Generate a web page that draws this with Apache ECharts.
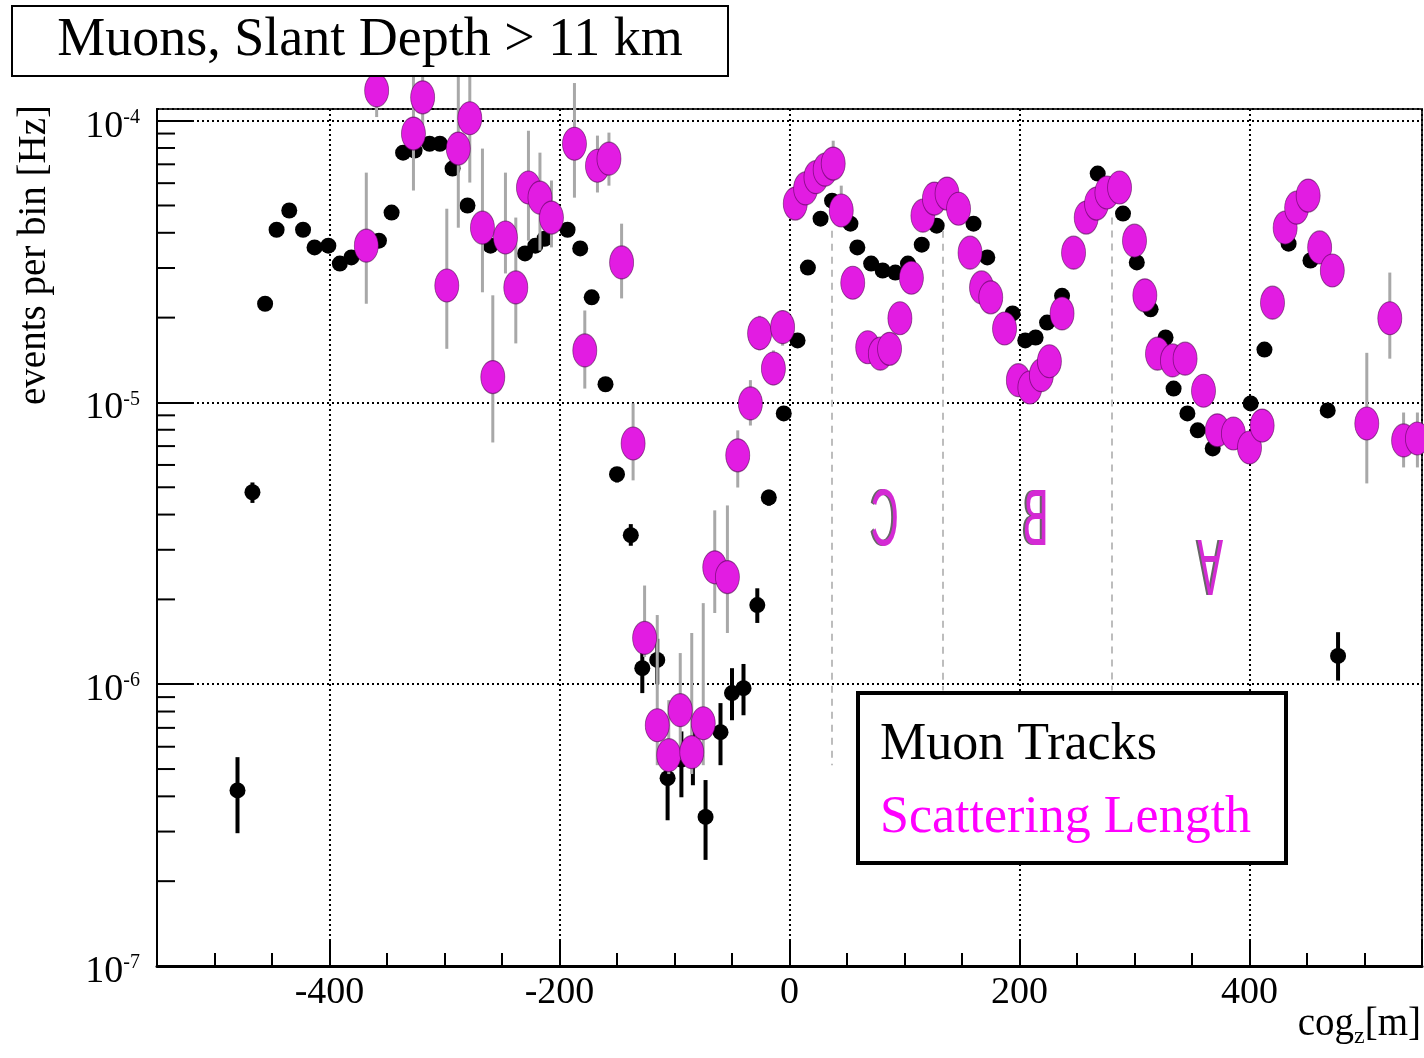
<!DOCTYPE html>
<html>
<head>
<meta charset="utf-8">
<script src="https://cdn.jsdelivr.net/npm/echarts@6/dist/echarts.min.js"></script>
<style>
html,body{margin:0;padding:0;background:#fff;}
#chart{width:1424px;height:1058px;}
</style>
</head>
<body>
<div id="chart"></div>
<script>
// ---------- data ----------
const xTickLabels = ['-400', '-200', '0', '200', '400'];
const yTickExponents = ['-7', '-6', '-5', '-4'];
const yMinorTicks = [2e-7, 3e-7, 4e-7, 5e-7, 6e-7, 7e-7, 8e-7, 9e-7,
                     2e-6, 3e-6, 4e-6, 5e-6, 6e-6, 7e-6, 8e-6, 9e-6,
                     2e-5, 3e-5, 4e-5, 5e-5, 6e-5, 7e-5, 8e-5, 9e-5];

// Muon Tracks: [cog_z, rate]
const muonPoints = [
  [-480, 4.2e-7], [-467, 4.8e-6], [-456, 2.24e-5], [-446, 4.1e-5], [-435, 4.8e-5],
  [-423, 4.1e-5], [-413, 3.55e-5], [-401, 3.6e-5], [-391, 3.11e-5], [-381, 3.27e-5],
  [-370, 3.4e-5], [-357, 3.75e-5], [-346, 4.72e-5], [-336, 7.7e-5], [-326, 7.83e-5],
  [-313, 8.28e-5], [-304, 8.28e-5], [-293, 6.76e-5], [-280, 5.0e-5], [-260, 3.6e-5],
  [-230, 3.38e-5], [-221, 3.6e-5], [-213, 3.81e-5], [-193, 4.1e-5], [-182, 3.52e-5],
  [-172, 2.36e-5], [-160, 1.16e-5], [-150, 5.56e-6], [-138, 3.38e-6], [-128, 1.14e-6],
  [-115, 1.22e-6], [-106, 4.64e-7], [-94, 5.4e-7], [-84, 5.8e-7], [-73, 3.38e-7],
  [-60, 6.76e-7], [-50, 9.3e-7], [-40, 9.68e-7], [-28, 1.91e-6], [-18, 4.6e-6],
  [-5, 9.14e-6], [7, 1.66e-5], [16, 3.01e-5], [27, 4.49e-5], [37, 5.2e-5],
  [53, 4.31e-5], [59, 3.55e-5], [71, 3.11e-5], [81, 2.94e-5], [92, 2.89e-5],
  [103, 3.11e-5], [115, 3.63e-5], [128, 4.24e-5], [160, 4.31e-5], [172, 3.27e-5],
  [194, 2.07e-5], [205, 1.66e-5], [214, 1.70e-5], [224, 1.92e-5], [237, 2.39e-5],
  [268, 6.49e-5], [290, 4.68e-5], [302, 3.14e-5], [314, 2.14e-5], [327, 1.70e-5],
  [334, 1.12e-5], [346, 9.14e-6], [355, 7.96e-6], [368, 6.87e-6], [401, 9.92e-6],
  [413, 1.54e-5], [434, 3.66e-5], [453, 3.19e-5], [468, 9.37e-6], [477, 1.26e-6]
];
// Muon Tracks error bars that show: [cog_z, low, high]
const muonErrors = [
  [-480, 2.96e-7, 5.51e-7], [-467, 4.4e-6, 5.2e-6], [-150, 5.2e-6, 5.9e-6],
  [-138, 3.1e-6, 3.7e-6], [-128, 0.93e-6, 1.37e-6], [-115, 1.0e-6, 1.45e-6],
  [-106, 3.29e-7, 6.0e-7], [-94, 3.97e-7, 6.8e-7], [-84, 4.38e-7, 7.2e-7],
  [-73, 2.38e-7, 4.57e-7], [-60, 5.16e-7, 8.57e-7], [-50, 7.45e-7, 1.14e-6],
  [-40, 7.76e-7, 1.18e-6], [-28, 1.65e-6, 2.19e-6], [-18, 4.3e-6, 4.9e-6],
  [477, 1.03e-6, 1.53e-6]
];

// Scattering Length: [cog_z, rate]
const scatPoints = [
  [-368, 3.6e-5], [-359, 1.28e-4], [-327, 9.0e-5], [-319, 1.21e-4], [-298, 2.6e-5],
  [-288, 7.96e-5], [-278, 1.02e-4], [-267, 4.17e-5], [-258, 1.23e-5], [-247, 3.85e-5],
  [-238, 2.56e-5], [-227, 5.79e-5], [-217, 5.33e-5], [-207, 4.53e-5], [-187, 8.28e-5],
  [-178, 1.53e-5], [-167, 6.92e-5], [-157, 7.33e-5], [-146, 3.14e-5], [-136, 7.15e-6],
  [-126, 1.46e-6], [-115, 7.15e-7], [-105, 5.6e-7], [-95, 8.09e-7], [-85, 5.74e-7],
  [-75, 7.27e-7], [-65, 2.6e-6], [-54, 2.4e-6], [-45, 6.49e-6], [-34, 9.92e-6],
  [-26, 1.76e-5], [-14, 1.32e-5], [-6, 1.85e-5], [5, 5.08e-5], [14, 5.75e-5],
  [23, 6.3e-5], [31, 6.7e-5], [38, 7.04e-5], [45, 4.8e-5], [55, 2.66e-5],
  [68, 1.57e-5], [79, 1.49e-5], [87, 1.55e-5], [96, 1.99e-5], [106, 2.77e-5],
  [116, 4.6e-5], [126, 5.29e-5], [137, 5.51e-5], [147, 4.87e-5], [157, 3.4e-5],
  [167, 2.56e-5], [175, 2.36e-5], [187, 1.83e-5], [199, 1.2e-5], [209, 1.13e-5],
  [219, 1.25e-5], [226, 1.4e-5], [237, 2.07e-5], [247, 3.4e-5], [258, 4.53e-5],
  [267, 5.08e-5], [276, 5.56e-5], [287, 5.79e-5], [300, 3.75e-5], [309, 2.4e-5],
  [320, 1.49e-5], [333, 1.41e-5], [344, 1.43e-5], [360, 1.1e-5], [372, 7.96e-6],
  [386, 7.76e-6], [400, 6.92e-6], [411, 8.28e-6], [420, 2.26e-5], [431, 4.17e-5],
  [441, 4.91e-5], [451, 5.42e-5], [461, 3.55e-5], [472, 2.94e-5], [502, 8.42e-6],
  [522, 1.99e-5], [534, 7.33e-6], [546, 7.45e-6]
];
// Scattering Length error bars that show: [cog_z, low, high]
const scatErrors = [
  [-368, 2.24e-5, 6.54e-5], [-359, 1.03e-4, 1.66e-4], [-327, 5.65e-5, 1.5e-4],
  [-319, 9.6e-5, 1.66e-4], [-298, 1.55e-5, 4.87e-5], [-288, 4.17e-5, 1.7e-4],
  [-278, 6.03e-5, 1.67e-4], [-267, 2.46e-5, 7.96e-5], [-258, 7.21e-6, 2.4e-5],
  [-247, 2.87e-5, 6.54e-5], [-238, 1.62e-5, 4.53e-5], [-227, 3.75e-5, 9.21e-5],
  [-217, 3.46e-5, 7.7e-5], [-207, 3.55e-5, 6.13e-5], [-187, 5.33e-5, 1.36e-4],
  [-178, 1.12e-5, 2.12e-5], [-167, 5.56e-5, 8.85e-5], [-157, 5.88e-5, 9.07e-5],
  [-146, 2.34e-5, 4.31e-5], [-136, 5.29e-6, 9.92e-6], [-126, 1.25e-6, 2.24e-6],
  [-115, 5.16e-7, 1.76e-6], [-105, 4.8e-7, 8.78e-7], [-95, 5.38e-7, 1.29e-6],
  [-85, 4.8e-7, 1.52e-6], [-75, 5.16e-7, 1.94e-6], [-65, 1.79e-6, 4.14e-6],
  [-54, 1.52e-6, 4.31e-6], [-45, 4.99e-6, 7.96e-6], [-34, 8.28e-6, 1.2e-5],
  [-26, 1.53e-5, 2.03e-5], [-14, 1.15e-5, 1.53e-5], [-6, 1.59e-5, 2.12e-5],
  [38, 6.5e-5, 8.49e-5], [45, 4.4e-5, 5.88e-5], [502, 5.16e-6, 1.5e-5],
  [522, 1.43e-5, 2.89e-5], [534, 5.88e-6, 9.21e-6], [546, 5.88e-6, 9.21e-6]
];

// Detector-string annotations
const stringLabels = ['C', 'B', 'A'];
const stringLineX = [37, 133, 280];
const stringLineTop = [4.07e-5, 4.07e-5, 4.53e-5];
const stringLineBottom = [5.16e-7, 9.5e-7, 9.5e-7];
const stringLabelX = [83, 214, 366];
const stringLabelY = [3.75e-6, 3.75e-6, 2.71e-6];

// ---------- chart ----------
const SERIF = '"Liberation Serif", "DejaVu Serif", serif';
const SANS = '"Liberation Sans", "DejaVu Sans", sans-serif';
const chart = echarts.init(document.getElementById('chart'), null, {renderer: 'canvas'});

const measureCtx = document.createElement('canvas').getContext('2d');
function textWidth(text, font) { measureCtx.font = font; return measureCtx.measureText(text).width; }

function errorBarSeries(name, data, color, width, z) {
  return {
    name: name, type: 'custom', z: z, clip: false, silent: true,
    data: data, encode: {x: 0, y: [1, 2]},
    renderItem: function (params, api) {
      const x = api.value(0);
      const p1 = api.coord([x, api.value(1)]);
      const p2 = api.coord([x, api.value(2)]);
      return {type: 'line', shape: {x1: p1[0], y1: p1[1], x2: p2[0], y2: p2[1]},
              style: {stroke: color, lineWidth: width}};
    }
  };
}

const markLineData = stringLineX.map((x, i) => [
  {coord: [x, stringLineTop[i]]}, {coord: [x, stringLineBottom[i]]}
]);

// x-axis title "cog_z [m]" pieces
const titleFont = '39px ' + SERIF;
const subFont = '24px ' + SERIF;
const xTitleRight = 1421;
const wBracket = textWidth('[m]', titleFont);
const wSub = textWidth('z', subFont);

const option = {
  animation: false,
  backgroundColor: '#ffffff',
  grid: {left: 157, right: 2, top: 109, bottom: 92, show: true,
         borderColor: '#333', borderWidth: 2, backgroundColor: '#fff'},
  xAxis: {
    type: 'value', min: -550, max: 550, splitNumber: 5,
    axisLine: {show: true, onZero: false, lineStyle: {color: '#000', width: 3}},
    axisTick: {show: true, inside: true, length: 26, lineStyle: {color: '#000', width: 2}},
    minorTick: {show: true, splitNumber: 4, length: 13, lineStyle: {color: '#000', width: 2}},
    axisLabel: {
      show: true, margin: 8, color: '#000', fontFamily: SERIF, fontSize: 38,
      showMinLabel: false, showMaxLabel: false,
      formatter: function (v) {
        const s = String(Math.round(v));
        return xTickLabels.indexOf(s) >= 0 ? s : '';
      }
    },
    splitLine: {show: true, lineStyle: {color: '#000', width: 2, type: [2, 3]}}
  },
  yAxis: {
    type: 'log', logBase: 10, min: 1e-7, max: 1.1e-4,
    axisLine: {show: true, onZero: false, lineStyle: {color: '#000', width: 2}},
    axisTick: {show: true, inside: true, length: 36, lineStyle: {color: '#000', width: 2}},
    axisLabel: {
      show: true, margin: 17, color: '#000', showMaxLabel: false,
      padding: [12, 0, 0, 0],
      formatter: function (v) {
        const l = Math.log10(v);
        const e = Math.round(l);
        const idx = e + 7;
        if (Math.abs(l - e) > 1e-6 || idx < 0 || idx >= yTickExponents.length) return '';
        return '{b|10}{e|' + yTickExponents[idx] + '}';
      },
      rich: {
        b: {fontFamily: SERIF, fontSize: 38, lineHeight: 38, verticalAlign: 'bottom', color: '#000'},
        e: {fontFamily: SERIF, fontSize: 20, lineHeight: 16, verticalAlign: 'top', color: '#000'}
      }
    },
    splitLine: {show: true, lineStyle: {color: '#000', width: 2, type: [2, 3]}}
  },
  series: [
    {
      name: 'annotations', type: 'scatter', data: [], z: 1, silent: true,
      markLine: {
        silent: true, symbol: 'none', animation: false,
        label: {show: false},
        lineStyle: {color: '#bdbdbd', width: 2, type: [7, 6]},
        data: markLineData
      }
    },
    {
      name: 'y minor ticks', type: 'custom', z: 6, clip: false, silent: true,
      data: yMinorTicks.map(v => [-550, v]), encode: {x: 0, y: 1},
      renderItem: function (params, api) {
        const p = api.coord([api.value(0), api.value(1)]);
        return {type: 'line', shape: {x1: p[0], y1: p[1], x2: p[0] + 18, y2: p[1]},
                style: {stroke: '#000', lineWidth: 2}};
      }
    },
    errorBarSeries('Muon Tracks errors', muonErrors, '#000', 4, 2),
    {
      name: 'Muon Tracks', type: 'scatter', z: 3, clip: false,
      data: muonPoints, symbol: 'circle', symbolSize: 16,
      itemStyle: {color: '#000', opacity: 1}
    },
    errorBarSeries('Scattering Length errors', scatErrors, '#a8a8a8', 3, 4),
    {
      name: 'Scattering Length', type: 'scatter', z: 5, clip: false,
      data: scatPoints, symbol: 'circle', symbolSize: [24, 33],
      itemStyle: {color: '#e21ce2', borderColor: 'rgba(70,0,70,0.55)', borderWidth: 1, opacity: 1}
    }
  ],
  graphic: [
    {type: 'rect', shape: {x: 12, y: 6, width: 716, height: 70},
     style: {fill: '#fff', stroke: '#000', lineWidth: 2}, z: 10},
    {type: 'text', x: 370, y: 41, z: 11,
     style: {text: 'Muons, Slant Depth > 11 km', font: '54px ' + SERIF, fill: '#000',
             textAlign: 'center', textVerticalAlign: 'middle'}},
    {type: 'text', x: 35, y: 105, rotation: Math.PI / 2, z: 11,
     style: {text: 'events per bin [Hz]', font: '39px ' + SERIF, fill: '#000',
             textAlign: 'right', textVerticalAlign: 'middle'}},
    {type: 'text', x: xTitleRight, y: 1025, z: 11,
     style: {text: '[m]', font: titleFont, fill: '#000', textAlign: 'right', textVerticalAlign: 'middle'}},
    {type: 'text', x: xTitleRight - wBracket, y: 1037, z: 11,
     style: {text: 'z', font: subFont, fill: '#000', textAlign: 'right', textVerticalAlign: 'middle'}},
    {type: 'text', x: xTitleRight - wBracket - wSub, y: 1025, z: 11,
     style: {text: 'cog', font: titleFont, fill: '#000', textAlign: 'right', textVerticalAlign: 'middle'}},
    {type: 'rect', shape: {x: 858, y: 693, width: 428, height: 170},
     style: {fill: '#fff', stroke: '#000', lineWidth: 4}, z: 10},
    {type: 'text', x: 880, y: 745, z: 11,
     style: {text: 'Muon Tracks', font: '52px ' + SERIF, fill: '#000',
             textAlign: 'left', textVerticalAlign: 'middle'}},
    {type: 'text', x: 880, y: 818, z: 11,
     style: {text: 'Scattering Length', font: '52px ' + SERIF, fill: '#ff00ff',
             textAlign: 'left', textVerticalAlign: 'middle'}}
  ]
};

chart.setOption(option);

// string letters (mirrored / flipped as in the original) placed through the axes
const letterGraphics = [];
stringLabels.forEach(function (t, i) {
  const p = chart.convertToPixel({gridIndex: 0}, [stringLabelX[i], stringLabelY[i]]);
  const flipped = (t === 'A');
  const sx = flipped ? 0.6 : -0.6;
  const sy = flipped ? -1.25 : 1.25;
  letterGraphics.push({type: 'text', x: p[0] - 2, y: p[1], scaleX: sx, scaleY: sy, z: 7,
    style: {text: t, font: '64px ' + SANS, fill: '#666', textAlign: 'center', textVerticalAlign: 'middle'}});
  letterGraphics.push({type: 'text', x: p[0], y: p[1], scaleX: sx, scaleY: sy, z: 8,
    style: {text: t, font: '64px ' + SANS, fill: '#d42ad4', textAlign: 'center', textVerticalAlign: 'middle'}});
});
chart.setOption({graphic: option.graphic.concat(letterGraphics)});
</script>
</body>
</html>
